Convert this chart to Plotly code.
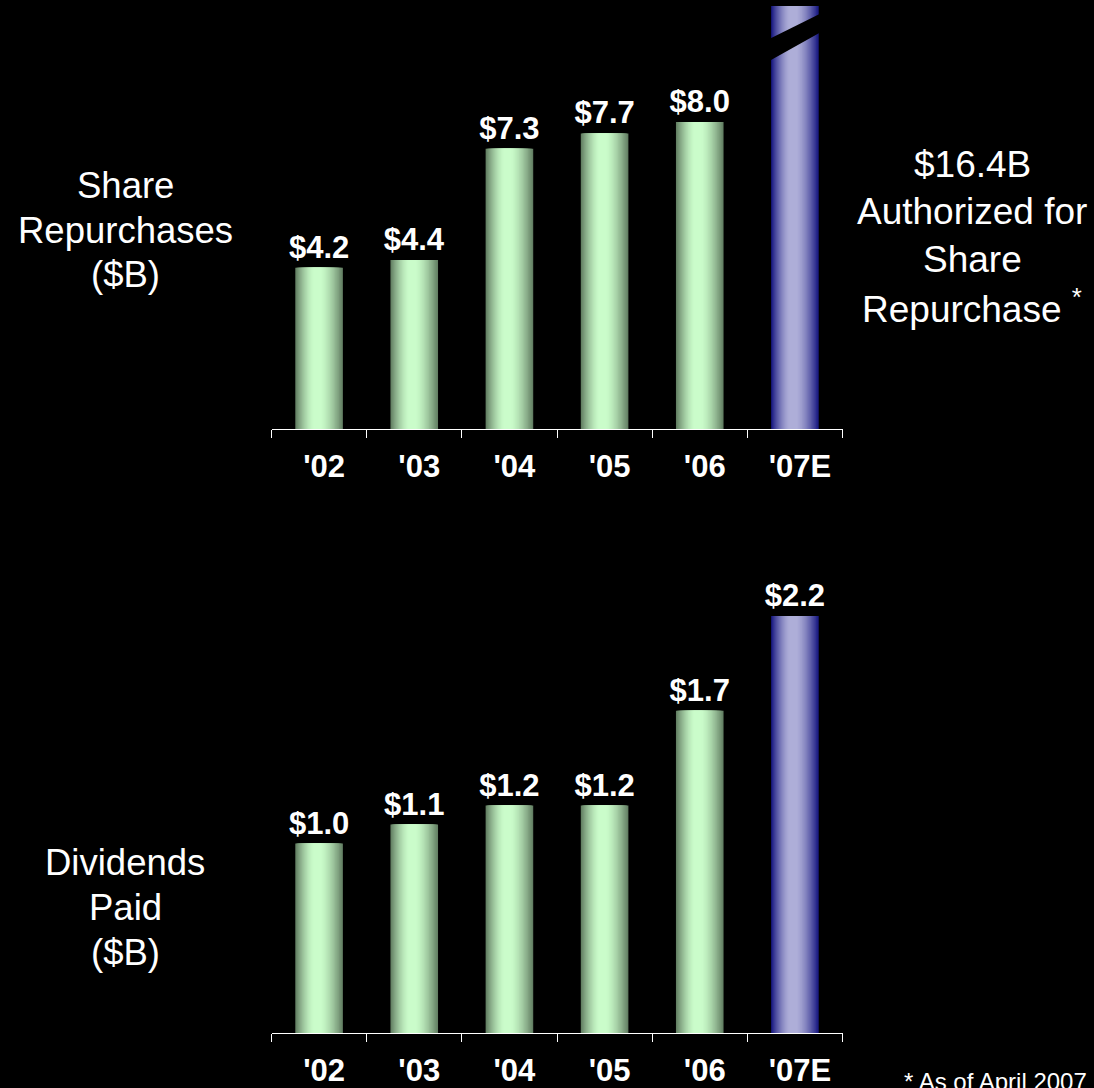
import plotly.graph_objects as go

# ---- data ----
years = ["'02", "'03", "'04", "'05", "'06", "'07E"]
repurchases = [4.2, 4.4, 7.3, 7.7, 8.0, 16.4]
repurchase_labels = ["$4.2", "$4.4", "$7.3", "$7.7", "$8.0", ""]
dividends = [1.0, 1.1, 1.2, 1.2, 1.7, 2.2]
dividend_labels = ["$1.0", "$1.1", "$1.2", "$1.2", "$1.7", "$2.2"]
estimate_flags = [False, False, False, False, False, True]

# ---- style ----
W, H = 1094, 1088
FONT = "Liberation Sans, Arial, sans-serif"
GREEN_EDGE, GREEN_MID = (100, 128, 100), (202, 252, 202)
BLUE_EDGE, BLUE_MID = (26, 26, 130), (174, 174, 216)
BAR_W = 0.5
N_LAYERS = 18
HL_CENTER, HL_HALF = 0.46, 0.08   # highlight position / half-width across the bar


def mix(a, b, t):
    return "rgb({},{},{})".format(*[round(a[i] + (b[i] - a[i]) * t) for i in range(3)])


def gradient_bars(values, labels, xaxis, yaxis):
    """Cylinder-like shading: nested bars narrowing towards a highlight band."""
    traces = []
    left_end, right_end = HL_CENTER - HL_HALF, HL_CENTER + HL_HALF
    for k in range(N_LAYERS):
        s = k / (N_LAYERS - 1)
        t = 1 - (1 - s) ** 1.5
        lo = left_end * s
        hi = 1 - (1 - right_end) * s
        colors = [mix(BLUE_EDGE, BLUE_MID, t) if est else mix(GREEN_EDGE, GREEN_MID, t)
                  for est in estimate_flags]
        tr = go.Bar(
            x=years, y=values,
            offset=BAR_W * (lo - 0.5), width=BAR_W * (hi - lo),
            marker=dict(color=colors, line=dict(width=0)),
            xaxis=xaxis, yaxis=yaxis, hoverinfo="skip", showlegend=False,
        )
        if k == 0:
            tr.update(text=labels, textposition="outside", constraintext="none",
                      cliponaxis=False,
                      textfont=dict(family=FONT, size=31, color="white", weight="bold"))
        traces.append(tr)
    return traces


fig = go.Figure()
for tr in gradient_bars(repurchases, repurchase_labels, "x", "y"):
    fig.add_trace(tr)
for tr in gradient_bars(dividends, dividend_labels, "x2", "y2"):
    fig.add_trace(tr)

x_dom = [271.5 / W, 842.5 / W]
axis_common = dict(
    showline=True, linecolor="white", linewidth=1,
    ticks="outside", ticklen=8, tickcolor="white", tickwidth=1,
    tickson="boundaries", showgrid=False, zeroline=False,
    tickfont=dict(family=FONT, size=31, color="white", weight="bold"),
    ticklabelstandoff=10, ticklabelshift=5, fixedrange=True,
)
fig.update_layout(
    width=W, height=H,
    margin=dict(l=0, r=0, t=0, b=0),
    paper_bgcolor="black", plot_bgcolor="black",
    barmode="overlay",
    xaxis=dict(domain=x_dom, anchor="y", **axis_common),
    yaxis=dict(domain=[1 - 429 / H, 1 - 6 / H], range=[0, 11.02], visible=False, fixedrange=True),
    xaxis2=dict(domain=x_dom, anchor="y2", **axis_common),
    yaxis2=dict(domain=[1 - 1033 / H, 1 - 560 / H], range=[0, 2.496], visible=False, fixedrange=True),
)

# break mark across the clipped '07E repurchase bar
bx0, bx1 = (5 + 0.5 - BAR_W / 2 - 0.02) / 6, (5 + 0.5 + BAR_W / 2 + 0.02) / 6
fig.add_shape(
    type="path", xref="x domain", yref="y domain",
    path=f"M {bx0},0.922 L {bx1},0.982 L {bx1},0.938 L {bx0},0.870 Z",
    fillcolor="black", line=dict(width=0),
)


def text_lines(lines, x, y_centers, size):
    for line, yc in zip(lines, y_centers):
        fig.add_annotation(text=line, xref="paper", yref="paper",
                           x=x / W, y=1 - yc / H, xanchor="center", yanchor="middle",
                           showarrow=False, font=dict(family=FONT, size=size, color="white"))


text_lines(["Share", "Repurchases", "($B)"], 125, [186, 230, 275], 36.5)
text_lines(["Dividends", "Paid", "($B)"], 125, [862, 907, 952], 36.5)
text_lines(["$16.4B", "Authorized for", "Share", "Repurchase <sup>*</sup>"],
           972, [165, 212, 259, 306], 37)

fig.add_annotation(text="* As of April 2007", xref="paper", yref="paper",
                   x=902 / W, y=1 - 1081 / H, xanchor="left", yanchor="middle",
                   showarrow=False, font=dict(family=FONT, size=24, color="white"))

fig.write_html("out.html", config={"displayModeBar": False})
